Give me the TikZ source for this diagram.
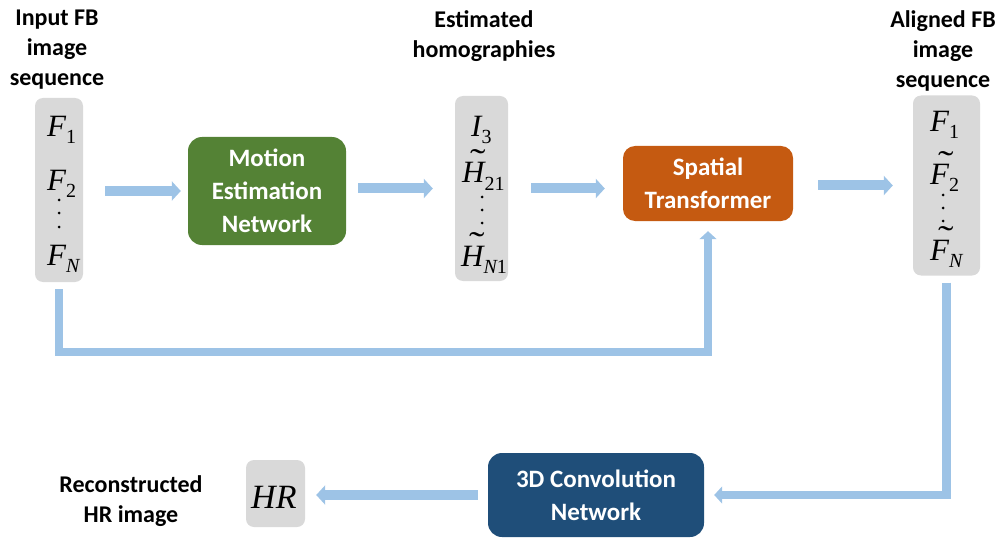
\documentclass[tikz,border=0pt]{standalone}
\usepackage{fontspec}
\setmainfont{Carlito}
\newfontfamily\tms{Liberation Serif}
\usetikzlibrary{arrows.meta}
\definecolor{abl}{HTML}{9DC3E6}
\definecolor{gbox}{HTML}{D9D9D9}
\definecolor{mgreen}{HTML}{548235}
\definecolor{sorange}{HTML}{C55A11}
\definecolor{cblue}{HTML}{1F4E79}
\newcommand\mv[2]{{\tms\itshape #1}\raisebox{-7pt}{\fontsize{20}{20}\selectfont\tms #2}}
\newcommand\tld[1]{\rlap{\hspace{8pt}\smash{\raisebox{10.5pt}{\upshape\scalebox{1.5}[1.1]{\symbol{"02DC}}}}}#1}
\tikzset{
  graybox/.style={fill=gbox, rounded corners=8pt, inner sep=0pt},
  netbox/.style={rounded corners=14pt, inner sep=0pt, text=white, align=center,
    font=\fontsize{25}{33}\selectfont\bfseries},
  hdr/.style={align=center, anchor=north, inner sep=0pt,
    font=\fontsize{24}{30}\selectfont\bfseries},
  mth/.style={anchor=base west, inner sep=0pt, font=\fontsize{31}{31}\selectfont\tms},
  flow/.style={draw=abl, line width=10pt, -{Triangle[length=9pt,width=19pt]}},
  fbline/.style={draw=abl, line width=8.5pt, -{Triangle[length=8pt,width=17pt]}},
  vdot/.style={fill=black, circle, inner sep=0pt, minimum size=3pt}
}
\begin{document}
\begin{tikzpicture}[x=1pt,y=-1pt]
\useasboundingbox (0,0) rectangle (998,540);
% boxes
\node[graybox, minimum width=48pt, minimum height=184pt] (inp) at (59,190) {};
\node[graybox, minimum width=53pt, minimum height=185pt] (hom) at (481.5,188.5) {};
\node[graybox, minimum width=67pt, minimum height=180pt] (ali) at (946.5,185.5) {};
\node[graybox, minimum width=59pt, minimum height=67pt] (hr) at (275.5,493.5) {};
\node[netbox, fill=mgreen, minimum width=158pt, minimum height=108pt] (me) at (267,191) {Motion\\Estimation\\Network};
\node[netbox, fill=sorange, minimum width=170pt, minimum height=75pt, rounded corners=12pt] (st) at (708,183.5) {Spatial\\Transformer};
\node[netbox, fill=cblue, minimum width=216pt, minimum height=84pt] (conv) at (596,495) {3D Convolution\\Network};
% headers
\node[hdr] (h1) at (57,10) {Input FB\\image\\sequence};
\node[hdr] (h2) at (484,10) {Estimated\\homographies};
\node[hdr] (h3) at (943,10) {Aligned FB\\image\\sequence};
\node[hdr] (h4) at (131,475) {Reconstructed\\HR image};
% input contents
\node[mth] (f1) at (47,137) {\mv{F}{1}};
\node[mth] (f2) at (47,190) {\mv{F}{2}};
\node[mth] (fn) at (47,265) {\mv{F}{\itshape N}};
\node[vdot] (d1) at (59,200) {};
\node[vdot] (d2) at (59,213) {};
\node[vdot] (d3) at (59,227) {};
% homography contents
\node[mth] (i3) at (471,137) {\mv{I}{3}};
\node[mth] (h21) at (462,183) {\mv{\tld{H}}{21}};
\node[mth] (hn1) at (461,266) {\mv{\tld{H}}{\itshape N\upshape 1}};
\node[vdot] (e1) at (482,197) {};
\node[vdot] (e2) at (482,210) {};
\node[vdot] (e3) at (482,223) {};
% aligned contents
\node[mth] (a1) at (930,132) {\mv{F}{1}};
\node[mth] (a2) at (930,185) {\mv{\tld{F}}{2}};
\node[mth] (an) at (930,260) {\mv{\tld{F}}{\itshape N}};
\node[vdot] (g1) at (943,195) {};
\node[vdot] (g2) at (943,208) {};
\node[vdot] (g3) at (943,221) {};
% HR
\node[anchor=base west, inner sep=0pt, font=\fontsize{34}{34}\selectfont\tms\itshape] (hrt) at (251,508) {HR};
% arrows
\draw[flow, shorten <=22pt, shorten >=7pt] (inp.east |- me.west) -- (me.west);
\draw[flow, shorten <=12pt, shorten >=22pt] (me.east |- hom.west) -- (hom.west);
\draw[flow, shorten <=23pt, shorten >=18pt] (hom.east) -- (hom.east -| st.west);
\draw[flow, shorten <=25pt, shorten >=20pt] (st.east |- ali.west) -- (ali.west);
\draw[flow, shorten <=10pt, shorten >=11pt] (conv.west) -- (conv.west -| hr.east);
\coordinate (fb) at (0,352);
\draw[fbline, shorten <=7pt, shorten >=10pt] (inp.south) |- (st.south |- fb) -- (st.south);
\draw[fbline, shorten <=7pt, shorten >=10pt] (ali.south) |- (conv.east);
\end{tikzpicture}
\end{document}
